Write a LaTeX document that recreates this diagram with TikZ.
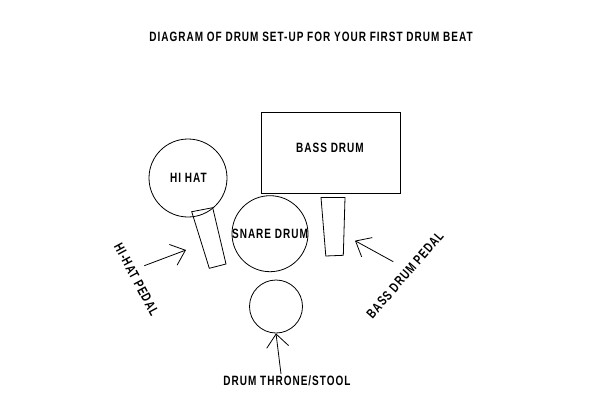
\documentclass[tikz,border=0pt]{standalone}
\usepackage{fontspec}
\setmainfont[LetterSpace=10]{Liberation Sans}
\usetikzlibrary{arrows.meta}
\newcommand{\hand}[1]{\scalebox{1}[1.35]{\bfseries #1}}
\begin{document}
\begin{tikzpicture}[x=1pt,y=-1pt,
  shp/.style={draw=black,line width=0.8pt},
  lbl/.style={font=\fontsize{10}{12}\selectfont,inner sep=0pt},
  ptr/.style={draw=black,line width=0.8pt,-{Straight Barb[length=13pt,width=22pt,line width=0.8pt]}}]
\fill[white] (0,0) rectangle (610,407);
\useasboundingbox (0,0) rectangle (610,407);
% title
\node[lbl] (title) at (311,37) {\hand{DIAGRAM OF DRUM SET-UP FOR YOUR FIRST DRUM BEAT}};
% bass drum
\node[shp,minimum width=139pt,minimum height=80.5pt,inner sep=0pt] (bass) at (330.5,153) {};
\node[lbl] (basst) at (330,148) {\hand{BASS DRUM}};
% hi hat
\node[shp,circle,minimum size=78pt,inner sep=0pt] (hihat) at (188,178) {};
\node[lbl] (hihatt) at (188.5,178) {\hand{HI HAT}};
% hi-hat pedal
\draw[shp] (191.7,211.7) -- (212.7,207.7) -- (226,264) -- (209.3,268.3) -- cycle;
\coordinate (hhp) at (186,250);
% snare
\node[shp,circle,minimum size=76pt,inner sep=0pt] (snare) at (270,233.7) {};
\node[lbl] (snaret) at (270,233.7) {\hand{SNARE DRUM}};
% bass pedal
\draw[shp] (321,197.5) -- (345,197.5) -- (343.3,255.3) -- (325.8,256) -- cycle;
\coordinate (bdp) at (355,240.7);
% throne
\node[shp,circle,minimum size=53pt,inner sep=0pt] (throne) at (276,306.5) {};
\node[lbl] (thronet) at (287,381) {\hand{DRUM THRONE/STOOL}};
% rotated labels
\node[lbl,rotate=-62] (hhpt) at (136.5,279.5) {\hand{HI-HAT PEDAL}};
\node[lbl,rotate=49] (bdpt) at (405,275) {\hand{BASS DRUM PEDAL}};
% arrows
\coordinate (a1) at (144.3,265.7);
\draw[ptr] (a1) -- (hhp);
\coordinate (a2) at (393.3,261.7);
\draw[ptr] (a2) -- (bdp);
\coordinate (a3) at (281,374);
\draw[ptr] (a3) -- (throne.south);
\end{tikzpicture}
\end{document}
